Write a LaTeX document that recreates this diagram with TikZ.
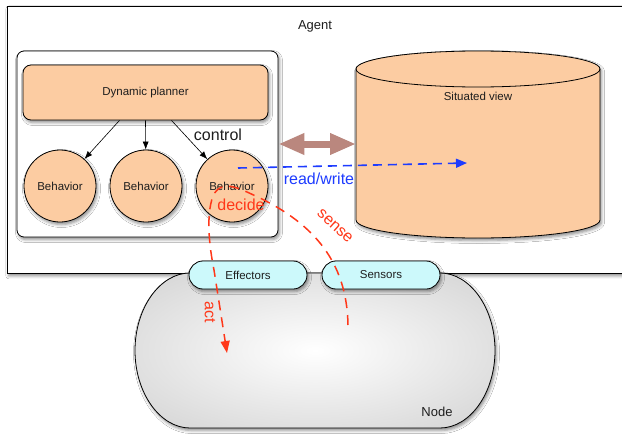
\documentclass[tikz,border=0pt]{standalone}
\usepackage{fontspec}
\setmainfont{Liberation Sans}
\usetikzlibrary{arrows.meta,shadows.blur,positioning}
\definecolor{peachc}{RGB}{252,204,162}
\definecolor{cyanc}{RGB}{204,249,251}
\definecolor{brownc}{RGB}{186,135,126}
\definecolor{redc}{RGB}{255,55,25}
\definecolor{bluec}{RGB}{30,60,255}
\definecolor{txtc}{RGB}{30,30,30}
\definecolor{nodegray}{RGB}{196,196,196}
\pgfdeclareradialshading{nodegrad}{\pgfpoint{0bp}{0bp}}{color(0bp)=(white); color(48bp)=(nodegray); color(100bp)=(nodegray)}
\tikzset{
  shad/.style={blur shadow={shadow xshift=1.5pt, shadow yshift=-2.5pt, shadow blur radius=3pt, shadow opacity=45}},
  outl/.style={draw=black, line width=0.8pt},
  peachbox/.style={outl, fill=peachc, shad},
  beh/.style={circle, peachbox, minimum size=72pt, inner sep=0pt, text=txtc, font=\fontsize{11.5}{13}\selectfont},
  pill/.style={outl, fill=cyanc, shad, rounded corners=14pt, minimum width=118pt, minimum height=28pt, inner sep=0pt, text=txtc, font=\fontsize{11.5}{13}\selectfont},
  ctrlarrow/.style={-{Latex[length=8pt,width=6pt]}, line width=0.6pt, black},
  lbl/.style={font=\fontsize{16}{18}\selectfont},
  smalltxt/.style={text=txtc, font=\fontsize{11.5}{13}\selectfont},
}
\begin{document}
\begin{tikzpicture}[x=1pt,y=-1pt]
\useasboundingbox (0,0) rectangle (622,434);
\fill[white] (0,0) rectangle (622,434);
% Agent box
\node[outl, fill=white, shad, anchor=north west, minimum width=640pt, minimum height=267pt, inner sep=0pt] (agentbox) at (7,6) {};
\node[text=txtc, font=\fontsize{13}{15}\selectfont] (agent) at (315,26) {Agent};
% control box
\node[outl, fill=white, shad, rounded corners=7pt, minimum width=261pt, minimum height=186pt, inner sep=0pt] (ctrl) at (147.5,144) {};
\node[peachbox, rounded corners=8pt, minimum width=245pt, minimum height=55pt, inner sep=0pt, smalltxt] (planner) at (145.5,92.5) {Dynamic planner};
\node[beh] (b1) at (60,186) {Behavior};
\node[beh] (b2) at (146,186) {Behavior};
\node[beh] (b3) at (232,186) {Behavior};
\node[lbl, text=txtc] (control) at (218,135) {control};
\draw[ctrlarrow] ([xshift=-26pt]planner.south) -- (b1);
\draw[ctrlarrow] (planner.south) -- (b2);
\draw[ctrlarrow] ([xshift=26pt]planner.south) -- (b3);
% Situated view cylinder
\path[peachbox] (356,69) -- (356,220) .. controls (356,230) and (411,238) .. (478,238) .. controls (545,238) and (600,230) .. (600,220) -- (600,69) .. controls (600,59) and (545,51) .. (478,51) .. controls (411,51) and (356,59) .. (356,69) -- cycle;
\draw[outl] (356,69) .. controls (356,79) and (411,87) .. (478,87) .. controls (545,87) and (600,79) .. (600,69);
\node[smalltxt] (sv) at (478,96) {Situated view};
\coordinate (cylw) at (356,144);
% double arrow
\draw[brownc, line width=7pt, {Triangle[length=26pt,width=20pt]}-{Triangle[length=26pt,width=20pt]}] (ctrl.east |- cylw) -- (cylw);
% Node
\path[outl, shading=nodegrad, shad] (190,273) -- (440,273) .. controls (470,273) and (495,308) .. (495,350.5) .. controls (495,393) and (470,428) .. (440,428) -- (190,428) .. controls (160,428) and (135,393) .. (135,350.5) .. controls (135,308) and (160,273) .. (190,273) -- cycle;
\node[text=txtc, font=\fontsize{13}{15}\selectfont] (nodelbl) at (437,412) {Node};
% Effectors / Sensors
\node[pill] (eff) at (248,275) {Effectors};
\node[pill] (sen) at (381,275) {Sensors};
% read/write
\coordinate (rwstart) at (238,168);
\coordinate (rwend) at (467,163);
\draw[bluec, line width=1.6pt, dash pattern=on 9pt off 6pt, -{Triangle[length=11pt,width=9pt]}] (rwstart) -- (rwend);
\node[lbl, text=bluec] (rw) at (319,179) {read/write};
% sense / decide / act
\coordinate (sstart) at (348,325);
\coordinate (aend) at (227,353);
\draw[redc, line width=1.5pt, dash pattern=on 10pt off 7pt, -{Triangle[length=12pt,width=9pt]}] (sstart) .. controls (347,268) and (320,228) .. (262,199) .. controls (242,190) and (222,177) .. (213,196) .. controls (206,215) and (209,245) .. (214,270) -- (aend);
\node[lbl, text=redc] (decide) at (241,205) {decide};
\node[lbl, text=redc, rotate=-42] (sense) at (335,226) {sense};
\node[lbl, text=redc, rotate=-90] (act) at (210,312) {act};
\end{tikzpicture}
\end{document}
